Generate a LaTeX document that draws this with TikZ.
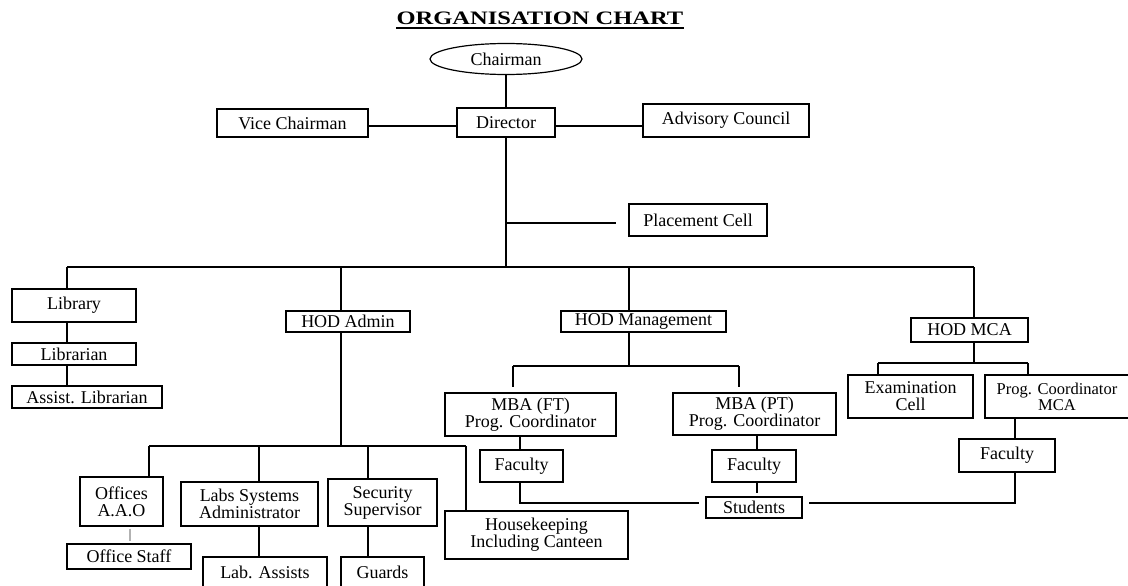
\documentclass[tikz,border=0pt]{standalone}
\usepackage{fontspec}
\setmainfont{Liberation Serif}
\usetikzlibrary{shapes.geometric}
\begin{document}
\begin{tikzpicture}[x=1pt,y=-1pt,
  box/.style={draw, line width=1.2pt, inner sep=0pt, align=center,
    font=\fontsize{18}{17}\selectfont},
  sz/.style 2 args={minimum width=#1pt, minimum height=#2pt},
  conn/.style={line width=1.1pt},
  faint/.style={line width=1.1pt, gray!60, shorten <=2pt, shorten >=2pt}]
\useasboundingbox (0,0) rectangle (1128,586);
% title
\node[inner sep=0pt] (title) at (540,18) {\scalebox{1.29}[1]{\fontsize{19}{22}\selectfont\bfseries ORGANISATION CHART}};
\draw[line width=1.4pt] (title.south west |- 0,28) -- (title.south east |- 0,28);
% top
\node[draw, ellipse, line width=1.2pt, sz={152}{31}, inner sep=0pt, font=\fontsize{18}{17}\selectfont] (chair) at (506,59) {Chairman};
\node[box, sz={98}{29}] (dir) at (506,122.5) {Director};
\node[box, sz={151}{28}] (vice) at (292.5,123) {Vice Chairman};
\node[box, sz={166}{33}] (adv) at (726,120.5) {Advisory Council};
\node[box, sz={138}{32}] (place) at (698,220) {Placement Cell};
% library
\node[box, sz={124}{33}] (lib) at (74,305.5) {Library};
\node[box, sz={124}{22}] (libn) at (74,354) {Librarian};
\node[box, sz={150}{22}] (alib) at (87,397) {Assist. Librarian};
% HODs
\node[box, sz={124}{21}] (hadm) at (348,321.5) {HOD Admin};
\node[box, sz={165}{21}] (hmgmt) at (643.5,321.5) {HOD Management};
\node[box, sz={117}{24}] (hmca) at (969.5,330) {HOD MCA};
% admin
\node[box, sz={83}{49}] (off) at (121.5,501.5) {Offices\\A.A.O};
\node[box, sz={124}{25}] (offst) at (129,556.5) {Office Staff};
\node[box, sz={137}{44}] (labs) at (249.5,504) {Labs Systems\\Administrator};
\node[box, sz={124}{34}, text depth=0pt] (labas) at (265,574) {\raisebox{3pt}{Lab. Assists}};
\node[box, sz={109}{47}] (sec) at (382.5,502.5) {Security\\Supervisor};
\node[box, sz={83}{34}] (guards) at (382.5,574) {\raisebox{3pt}{Guards}};
\node[box, sz={183}{48}] (house) at (536.5,535) {Housekeeping\\Including Canteen};
% management
\node[box, sz={171}{43}] (mbaft) at (530.5,414.5) {MBA (FT)\\Prog. Coordinator};
\node[box, sz={163}{42}] (mbapt) at (754.5,414) {MBA (PT)\\Prog. Coordinator};
\node[box, sz={83}{32}] (facft) at (521.5,466) {Faculty};
\node[box, sz={84}{32}] (facpt) at (754,466) {Faculty};
\node[box, sz={96}{21}] (stud) at (754,507.5) {Students};
% MCA
\node[box, sz={125}{43}] (exam) at (910.5,396.5) {Examination\\Cell};
\node[box, sz={144}{43}, font=\fontsize{16.5}{16}\selectfont] (pcmca) at (1057,396.5) {Prog. Coordinator\\MCA};
\node[box, sz={96}{33}] (facmca) at (1007,455.5) {Faculty};
% coordinates
\coordinate (dj) at (506,267);
\coordinate (pj) at (506,223);
\coordinate (busL) at (67,267);
\coordinate (busR) at (974,267);
\coordinate (ba) at (341,267);
\coordinate (sa) at (341,446);
\coordinate (saL) at (149,446);
\coordinate (saR) at (466,446);
\coordinate (xl) at (259,446);
\coordinate (xs) at (368,446);
\coordinate (ox) at (130,530);
\coordinate (bm) at (629,267);
\coordinate (sm) at (629,366);
\coordinate (smL) at (513,366);
\coordinate (smR) at (739,366);
\coordinate (xf) at (520,450);
\coordinate (xp) at (757,450);
\coordinate (sc) at (974,363);
\coordinate (scL) at (878,363);
\coordinate (scR) at (1028,363);
\coordinate (xm) at (1015,440);
\coordinate (ys) at (700,503);
% connectors
\draw[conn] (chair.south) -- (dir.north);
\draw[conn] (vice.east |- 0,126) -- (dir.west |- 0,126);
\draw[conn] (dir.east |- 0,126) -- (adv.west |- 0,126);
\draw[conn] (dir.south) -- (dj);
\draw[conn, shorten >=12pt] (pj) -- (pj -| place.west);
\draw[conn] (busL) -- (busR);
\draw[conn] (busL) -- (busL |- lib.north);
\draw[conn] (busL |- lib.south) -- (busL |- libn.north);
\draw[conn] (busL |- libn.south) -- (busL |- alib.north);
\draw[conn] (ba) -- (ba |- hadm.north);
\draw[conn] (ba |- hadm.south) -- (sa);
\draw[conn] (saL) -- (saR);
\draw[conn] (saL) -- (saL |- off.north);
\draw[conn] (xl) -- (xl |- labs.north);
\draw[conn] (xs) -- (xs |- sec.north);
\draw[conn] (saR) -- (saR |- house.north);
\draw[faint] (ox |- off.south) -- (ox |- offst.north);
\draw[conn] (xl |- labs.south) -- (xl |- labas.north);
\draw[conn] (xs |- sec.south) -- (xs |- guards.north);
\draw[conn] (bm) -- (bm |- hmgmt.north);
\draw[conn] (bm |- hmgmt.south) -- (sm);
\draw[conn] (smL) -- (smR);
\draw[conn, shorten >=5pt] (smL) -- (smL |- mbaft.north);
\draw[conn, shorten >=5pt] (smR) -- (smR |- mbapt.north);
\draw[conn] (xf |- mbaft.south) -- (xf |- facft.north);
\draw[conn] (xp |- mbapt.south) -- (xp |- facpt.north);
\draw[conn, shorten >=3pt] (xp |- facpt.south) -- (xp |- stud.north);
\draw[conn, shorten >=6pt] (xf |- facft.south) |- (stud.west |- ys);
\draw[conn, shorten >=6pt] (xm |- facmca.south) |- (stud.east |- ys);
\draw[conn] (busR) -- (busR |- hmca.north);
\draw[conn] (busR |- hmca.south) -- (sc);
\draw[conn] (scL) -- (scR);
\draw[conn] (scL) -- (scL |- exam.north);
\draw[conn] (scR) -- (scR |- pcmca.north);
\draw[conn] (xm |- pcmca.south) -- (xm |- facmca.north);
\end{tikzpicture}
\end{document}
